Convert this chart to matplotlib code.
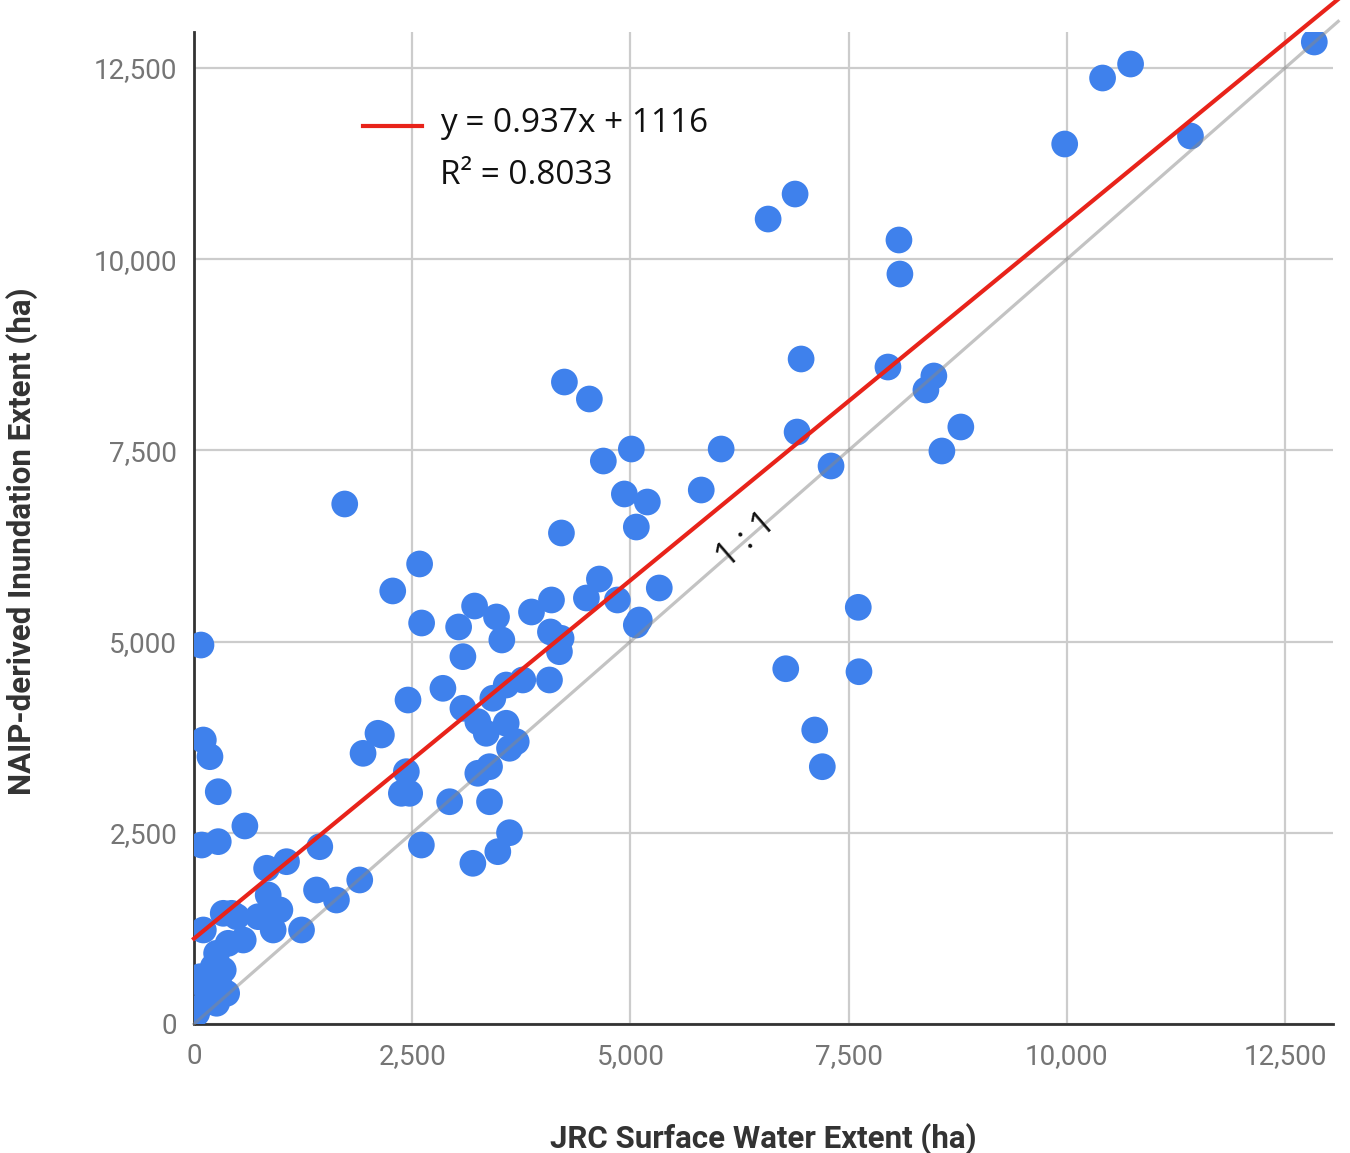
import numpy as np
import matplotlib.pyplot as plt
from matplotlib.ticker import FuncFormatter

# JRC surface water (x) vs NAIP-derived inundation (y), hectares
jrc = [12836, 10410, 10731, 9976, 11417, 6578, 6887, 8077, 8088, 6956,
       7951, 8477, 8386, 8786, 8569, 6910, 7299, 6040, 5812, 4244,
       4530, 5011, 4690, 4931, 5194, 5068, 4210, 1727, 2585, 2277,
       2608, 5331, 4645, 4496, 4851, 4096, 3867, 3466, 3215, 5068,
       5102, 4084, 4206, 4187, 3032, 3527, 3081, 4073, 3767, 3577,
       3424, 2852, 2452, 2147, 3081, 3252, 3348, 3577, 3692, 3615,
       3386, 3252, 2433, 2471, 2376, 2929, 3386, 2605, 3615, 3481,
       3195, 107, 183, 278, 583, 88, 278, 1937, 2108, 1441,
       832, 1060, 850, 984, 736, 907, 1232, 1404, 1632, 1899,
       335, 488, 564, 392, 107, 259, 221, 335, 69, 297,
       374, 259, 31, 145, 80, 7611, 7619, 6780, 7112, 7199,
       431, 49]
naip = [12840, 12369, 12552, 11506, 11611, 10525, 10852, 10251, 9806, 8695,
        8590, 8473, 8290, 7806, 7492, 7740, 7296, 7518, 6982, 8394,
        8172, 7518, 7361, 6930, 6825, 6498, 6420, 6799, 6015, 5662,
        5243, 5701, 5818, 5570, 5544, 5544, 5387, 5322, 5465, 5217,
        5282, 5126, 5043, 4868, 5191, 5021, 4803, 4498, 4498, 4432,
        4259, 4389, 4236, 3779, 4128, 3953, 3801, 3932, 3691, 3605,
        3364, 3278, 3299, 3016, 3016, 2906, 2906, 2340, 2501, 2253,
        2101, 3713, 3495, 3037, 2589, 2340, 2384, 3539, 3801, 2318,
        2036, 2122, 1687, 1491, 1403, 1229, 1229, 1752, 1621, 1883,
        1447, 1403, 1098, 1055, 1229, 924, 749, 706, 618, 488,
        401, 271, 140, 445, 4955, 5448, 4606, 4645, 3844, 3364,
        1447, 205]

slope = 0.937
intercept = 1116
r2 = 0.8033
ticks = [0, 2500, 5000, 7500, 10000, 12500]
xmax = 13050
ymax = 12970

plt.rcParams['font.family'] = ['Roboto', 'DejaVu Sans']

fig = plt.figure(figsize=(13.5, 11.53), dpi=100)
ax = fig.add_axes([0.1437, 0.1119, 0.8437, 0.8603])

ax.scatter(jrc, naip, s=370, color='#3f81ec', edgecolors='none', zorder=3)

# 1:1 reference line, drawn over the points
xx = np.array([0, xmax + 60])
ax.plot(xx, xx, color='#888888', lw=2.3, alpha=0.5, zorder=4, clip_on=False)
ax.text(6330, 6330, '1 : 1', rotation=41, fontsize=25, color='#111111',
        ha='center', va='center', family=['Open Sans', 'DejaVu Sans'], zorder=5)

# trend line
ax.plot(xx, slope * xx + intercept, color='#e8231a', lw=3, zorder=5, clip_on=False)

ax.set_xlim(0, xmax)
ax.set_ylim(0, ymax)
ax.set_xticks(ticks)
ax.set_yticks(ticks)
fmt = FuncFormatter(lambda v, p: f'{int(v):,}')
ax.xaxis.set_major_formatter(fmt)
ax.yaxis.set_major_formatter(fmt)
ax.tick_params(length=0, labelsize=20, labelcolor='#757575')
ax.tick_params(axis='x', pad=14)
ax.tick_params(axis='y', pad=12)
ax.grid(True, color='#cccccc', lw=1.6, zorder=0)
ax.set_axisbelow(True)
for s in ['top', 'right']:
    ax.spines[s].set_visible(False)
for s in ['left', 'bottom']:
    ax.spines[s].set_color('#333333')
    ax.spines[s].set_linewidth(2)

ax.set_xlabel('JRC Surface Water Extent (ha)', fontsize=22.5, fontweight='bold',
              color='#333333', labelpad=38)
ax.set_ylabel('NAIP-derived Inundation Extent (ha)', fontsize=22.5, fontweight='bold',
              color='#333333')
ax.yaxis.set_label_coords(-0.137, 0.487)

# legend-like annotation
fig.add_artist(plt.Line2D([363 / 1350, 422 / 1350], [1 - 126 / 1153, 1 - 126 / 1153],
                          color='#e8231a', lw=3, transform=fig.transFigure))
fig.text(440 / 1350, 1 - 124 / 1153, f'y = {slope}x + {intercept}', fontsize=24,
         va='center', ha='left', color='#111111', family=['Open Sans', 'DejaVu Sans'])
fig.text(440 / 1350, 1 - 175 / 1153, f'R² = {r2}', fontsize=24,
         va='center', ha='left', color='#111111', family=['Open Sans', 'DejaVu Sans'])

fig.savefig('out.png', dpi=100, facecolor='white')
